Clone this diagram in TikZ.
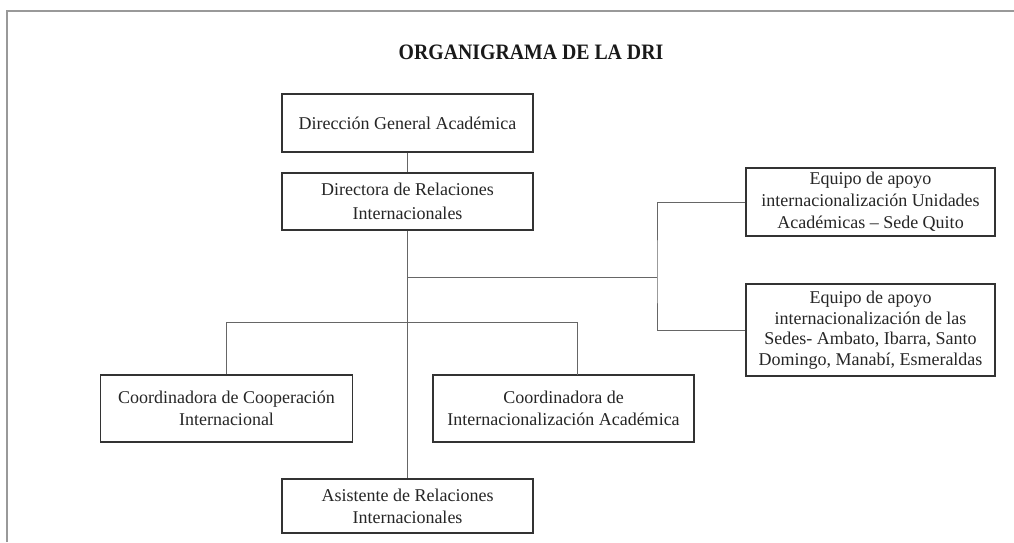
\documentclass[tikz,border=0pt]{standalone}
\usepackage{fontspec}
\setmainfont{Liberation Serif}
\usetikzlibrary{calc}
\begin{document}
\begin{tikzpicture}[x=1pt,y=-1pt,
  orgbox/.style={draw=black!80, line width=1.1pt, rectangle, inner sep=0pt, align=center,
    font=\fontsize{18}{22}\selectfont, text=black!85},
  conn/.style={draw=black!60, line width=0.9pt},
  frame/.style={draw=black!40, line width=1.6pt}
]
\useasboundingbox (0,0) rectangle (1014,542);
\fill[white] (0,0) rectangle (1014,542);
\draw[frame] (7,542) -- (7,11) -- (1014,11);

\node[anchor=base, font=\fontsize{22}{26}\selectfont\bfseries, text=black!90] (title) at (531,59)
  {\scalebox{0.9}[1]{ORGANIGRAMA DE LA DRI}};

\node[orgbox, minimum width=251pt, minimum height=58pt] (b1) at (407.5,123)
  {Dirección General Académica};
\node[orgbox, minimum width=251pt, minimum height=57pt, font=\fontsize{18}{24}\selectfont] (b2) at (407.5,201.5)
  {Directora de Relaciones\\Internacionales};
\node[orgbox, minimum width=249pt, minimum height=68pt] (e1) at (870.5,202)
  {Equipo de apoyo\\internacionalización Unidades\\Académicas -- Sede Quito};
\node[orgbox, minimum width=249pt, minimum height=92pt, font=\fontsize{18}{20.5}\selectfont] (e2) at (870.5,330)
  {Equipo de apoyo\\internacionalización de las\\Sedes- Ambato, Ibarra, Santo\\Domingo, Manabí, Esmeraldas};
\node[orgbox, minimum width=252pt, minimum height=67pt] (c1) at (226.5,408.5)
  {Coordinadora de Cooperación\\Internacional};
\node[orgbox, minimum width=261pt, minimum height=67pt] (c2) at (563.5,408.5)
  {Coordinadora de\\Internacionalización Académica};
\node[orgbox, minimum width=251pt, minimum height=54pt] (a) at (407.5,506)
  {Asistente de Relaciones\\Internacionales};

\coordinate (j1) at (407.5,277);
\coordinate (r) at (657,277);
\coordinate (j2) at (407.5,322);
\coordinate (c2t) at (577,375);

\draw[conn] (b1.south) -- (b2.north);
\draw[conn] (b2.south) -- (a.north);
\draw[conn] (j1) -- (r);
\draw[conn] (e1.west) -| (r) |- (e2.west);
\draw[conn] (c1.north) |- (c2t |- j2) -- (c2t);
\end{tikzpicture}
\end{document}
